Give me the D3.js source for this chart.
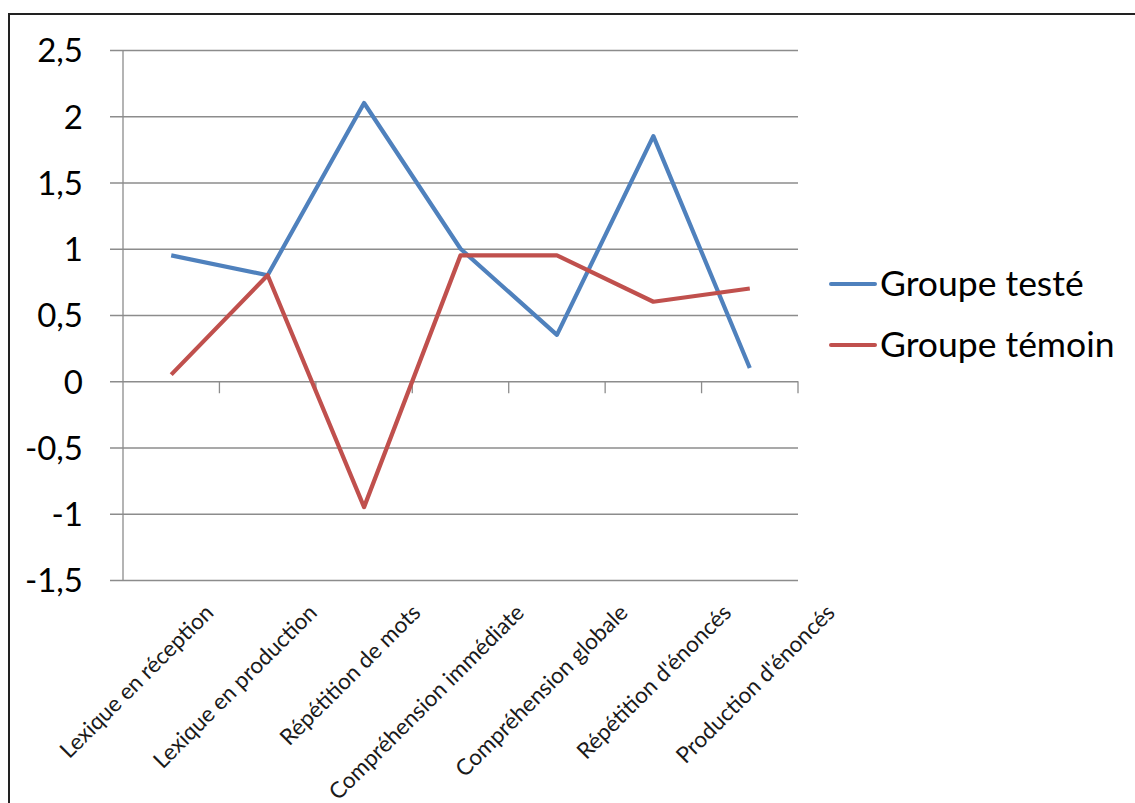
<!DOCTYPE html>
<html><head><meta charset="utf-8">
<script src="https://cdn.jsdelivr.net/npm/d3@7"></script>
<style>body{margin:0;background:#fff;overflow:hidden}</style>
</head><body>
<svg id="c" width="1135" height="803"></svg>
<script>
const categories = ["Lexique en réception","Lexique en production","Répétition de mots","Compréhension immédiate","Compréhension globale","Répétition d'énoncés","Production d'énoncés"];
const seriesNames = ["Groupe testé","Groupe témoin"];
const groupeTeste = [0.95,0.8,2.1,1.0,0.35,1.85,0.1];
const groupeTemoin = [0.05,0.8,-0.95,0.95,0.95,0.6,0.7];
const yTicks = [2.5,2,1.5,1,0.5,0,-0.5,-1,-1.5];
const colors = ["#4F81BD","#C0504D"];

const svg = d3.select("#c");
const font = "Lato, 'Open Sans', sans-serif";
const L = 123, R = 798, T = 50, B = 580;

// frame
svg.append("rect").attr("x",9).attr("y",14).attr("width",1140).attr("height",820)
  .attr("fill","none").attr("stroke","#222").attr("stroke-width",2);

const x = d3.scaleBand().domain(categories).range([L,R]);
const y = d3.scaleLinear().domain([-1.5,2.5]).range([B,T]);
const xl = d3.scaleBand().domain(categories).range([163,888]);

// gridlines + y ticks
svg.append("g").attr("transform",`translate(${L},0)`)
  .call(d3.axisLeft(y).tickValues(yTicks).tickSize(-(R-L)).tickSizeOuter(0)
    .tickFormat(d=>String(d).replace(".",",")))
  .call(g=>g.select(".domain").remove())
  .call(g=>g.selectAll(".tick line").attr("stroke","#8c8c8c").attr("stroke-width",1.3).attr("x1",-13))
  .call(g=>g.selectAll(".tick text").attr("x",-40).attr("dy","0.36em").attr("fill","#000")
      .style("font-family",font).style("font-size","33px"));

// y axis line
svg.append("line").attr("x1",L).attr("x2",L).attr("y1",T).attr("y2",B)
  .attr("stroke","#8c8c8c").attr("stroke-width",1.3);

// x axis ticks at band boundaries
const bounds = categories.map(c=>x(c)+x.bandwidth());
svg.append("g").selectAll("line").data(bounds).join("line")
  .attr("x1",d=>d).attr("x2",d=>d).attr("y1",y(0)).attr("y2",y(0)+12)
  .attr("stroke","#8c8c8c").attr("stroke-width",1.3);

// x labels
svg.append("g").selectAll("text").data(categories).join("text")
  .attr("transform",d=>`translate(${xl(d)+xl.bandwidth()/2},${614}) rotate(-45)`)
  .attr("text-anchor","end")
  .style("font-family",font).style("font-size","22.5px").attr("fill","#1a1a1a")
  .text(d=>d);

// lines
const line = d3.line().x((d,i)=>x(categories[i])+x.bandwidth()/2).y(d=>y(d));
[groupeTeste,groupeTemoin].forEach((s,k)=>{
  svg.append("path").datum(s).attr("d",line).attr("fill","none")
    .attr("stroke",colors[k]).attr("stroke-width",4.2).attr("stroke-linejoin","round");
});

// legend
const lg = svg.append("g");
seriesNames.forEach((n,k)=>{
  const cy = 284 + k*61;
  lg.append("line").attr("x1",831).attr("x2",875).attr("y1",cy).attr("y2",cy)
    .attr("stroke",colors[k]).attr("stroke-width",4).attr("stroke-linecap","round");
  lg.append("text").attr("x",880).attr("y",cy+12).attr("fill","#000")
    .style("font-family",font).style("font-size","35.5px").text(n);
});
</script>
</body></html>
